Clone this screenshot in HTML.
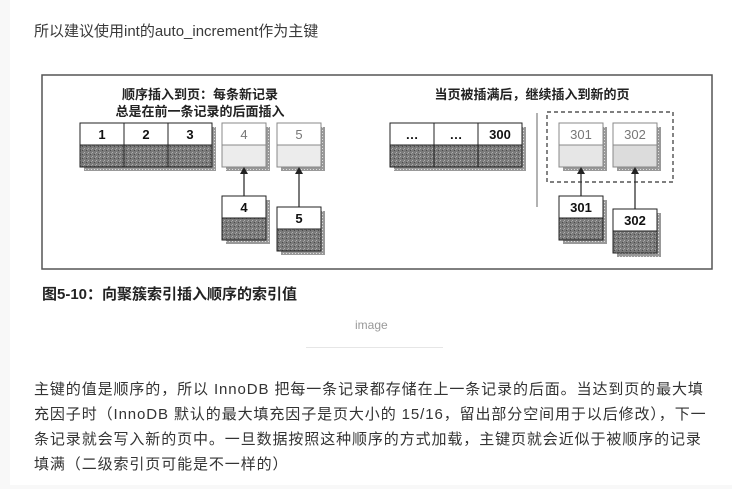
<!DOCTYPE html>
<html><head><meta charset="utf-8"><style>
html,body{margin:0;padding:0;}
body{width:732px;height:489px;background:#f8f8f8;position:relative;overflow:hidden;font-family:"Liberation Sans","Noto Sans CJK SC",sans-serif;}
.main{position:absolute;left:10px;top:0;width:722px;height:485px;background:#fff;}
.t{position:absolute;white-space:nowrap;color:#333;}
</style></head><body>
<div class="main"></div>
<div class="t" style="left:34px;top:20px;font-size:15px;color:#3a3a3a;">所以建议使用int的auto_increment作为主键</div>
<svg style="position:absolute;left:0;top:0" width="732" height="310" xmlns="http://www.w3.org/2000/svg">
<defs>
<pattern id="dk" width="4" height="4" patternUnits="userSpaceOnUse"><rect width="4" height="4" fill="#7a7a7a"/><rect x="0" y="0" width="1" height="1" fill="#b0b0b0"/><rect x="2" y="2" width="1" height="1" fill="#4a4a4a"/><rect x="3" y="1" width="1" height="1" fill="#a0a0a0"/></pattern>
<pattern id="sh" width="3" height="3" patternUnits="userSpaceOnUse"><rect width="3" height="3" fill="#999"/><rect x="1" y="1" width="1" height="1" fill="#ddd"/></pattern>
</defs>
<rect x="42" y="75" width="670" height="194" fill="#fff" stroke="#555" stroke-width="1.5"/>
<g font-family="Liberation Sans,Noto Sans CJK SC,sans-serif" font-weight="bold" font-size="13" fill="#222" text-anchor="middle">
<text x="200" y="99">顺序插入到页：每条新记录</text>
<text x="200" y="116">总是在前一条记录的后面插入</text>
<text x="532" y="99">当页被插满后，继续插入到新的页</text>
</g>
<g font-family="Liberation Sans,sans-serif" font-size="13" text-anchor="middle">
<rect x="84" y="127" width="132" height="44" fill="url(#sh)"/>
<rect x="226" y="127" width="44" height="44" fill="url(#sh)"/>
<rect x="281" y="127" width="44" height="44" fill="url(#sh)"/>
<rect x="226" y="200" width="44" height="44" fill="url(#sh)"/>
<rect x="281" y="211" width="44" height="44" fill="url(#sh)"/>
<rect x="394" y="127" width="132" height="44" fill="url(#sh)"/>
<rect x="563" y="127" width="44" height="44" fill="url(#sh)"/>
<rect x="617" y="127" width="44" height="44" fill="url(#sh)"/>
<rect x="563" y="200" width="44" height="44" fill="url(#sh)"/>
<rect x="617" y="213" width="44" height="44" fill="url(#sh)"/>
<g stroke="#222" stroke-width="1">
<rect x="80" y="123" width="132" height="22" fill="#fff"/><rect x="80" y="145" width="132" height="22" fill="url(#dk)"/>
<line x1="124" y1="123" x2="124" y2="167"/><line x1="168" y1="123" x2="168" y2="167"/>
<rect x="222" y="196" width="44" height="22" fill="#fff"/><rect x="222" y="218" width="44" height="22" fill="url(#dk)"/>
<rect x="277" y="207" width="44" height="22" fill="#fff"/><rect x="277" y="229" width="44" height="22" fill="url(#dk)"/>
<rect x="390" y="123" width="132" height="22" fill="#fff"/><rect x="390" y="145" width="132" height="22" fill="url(#dk)"/>
<line x1="434" y1="123" x2="434" y2="167"/><line x1="478" y1="123" x2="478" y2="167"/>
<rect x="559" y="196" width="44" height="22" fill="#fff"/><rect x="559" y="218" width="44" height="22" fill="url(#dk)"/>
<rect x="613" y="209" width="44" height="22" fill="#fff"/><rect x="613" y="231" width="44" height="22" fill="url(#dk)"/>
</g>
<g stroke="#888" stroke-width="1">
<rect x="222" y="123" width="44" height="22" fill="#fff"/><rect x="222" y="145" width="44" height="22" fill="#ececec"/>
<rect x="277" y="123" width="44" height="22" fill="#fff"/><rect x="277" y="145" width="44" height="22" fill="#ececec"/>
<rect x="559" y="123" width="44" height="22" fill="#fff"/><rect x="559" y="145" width="44" height="22" fill="#e6e6e6"/>
<rect x="613" y="123" width="44" height="22" fill="#fff"/><rect x="613" y="145" width="44" height="22" fill="#dcdcdc"/>
</g>
<g font-weight="bold" fill="#111">
<text x="102" y="139">1</text><text x="146" y="139">2</text><text x="190" y="139">3</text>
<text x="244" y="212">4</text><text x="299" y="223">5</text>
<text x="412" y="139">…</text><text x="456" y="139">…</text><text x="500" y="139">300</text>
<text x="581" y="212">301</text><text x="635" y="225">302</text>
</g>
<g fill="#777">
<text x="244" y="139">4</text><text x="299" y="139">5</text>
<text x="581" y="139">301</text><text x="635" y="139">302</text>
</g>
</g>
<g stroke="#222" stroke-width="1.2">
<line x1="244" y1="196" x2="244" y2="172"/><line x1="299" y1="207" x2="299" y2="172"/>
<line x1="581" y1="196" x2="581" y2="172"/><line x1="635" y1="209" x2="635" y2="172"/>
</g>
<g fill="#222">
<polygon points="244,167 240,174 248,174"/><polygon points="299,167 295,174 303,174"/>
<polygon points="581,167 577,174 585,174"/><polygon points="635,167 631,174 639,174"/>
</g>
<line x1="537" y1="113" x2="537" y2="207" stroke="#666" stroke-width="1"/>
<rect x="547" y="112" width="126" height="70" fill="none" stroke="#333" stroke-width="1.2" stroke-dasharray="4,3"/>
</svg>
<div class="t" style="left:42px;top:283px;font-size:15px;font-weight:bold;color:#222;">图5-10：向聚簇索引插入顺序的索引值</div>
<div class="t" style="left:355px;top:318px;font-size:12px;color:#999;">image</div>
<div style="position:absolute;left:306px;top:347px;width:137px;height:1px;background:#e6e6e6;"></div>
<div style="position:absolute;left:34px;top:377px;font-size:15px;line-height:25px;color:#333;white-space:nowrap;letter-spacing:0.9px;">主键的值是顺序的，所以 InnoDB 把每一条记录都存储在上一条记录的后面。当达到页的最大填<br>充因子时（InnoDB 默认的最大填充因子是页大小的 15/16，留出部分空间用于以后修改），下一<br>条记录就会写入新的页中。一旦数据按照这种顺序的方式加载，主键页就会近似于被顺序的记录<br>填满（二级索引页可能是不一样的）</div>
</body></html>
